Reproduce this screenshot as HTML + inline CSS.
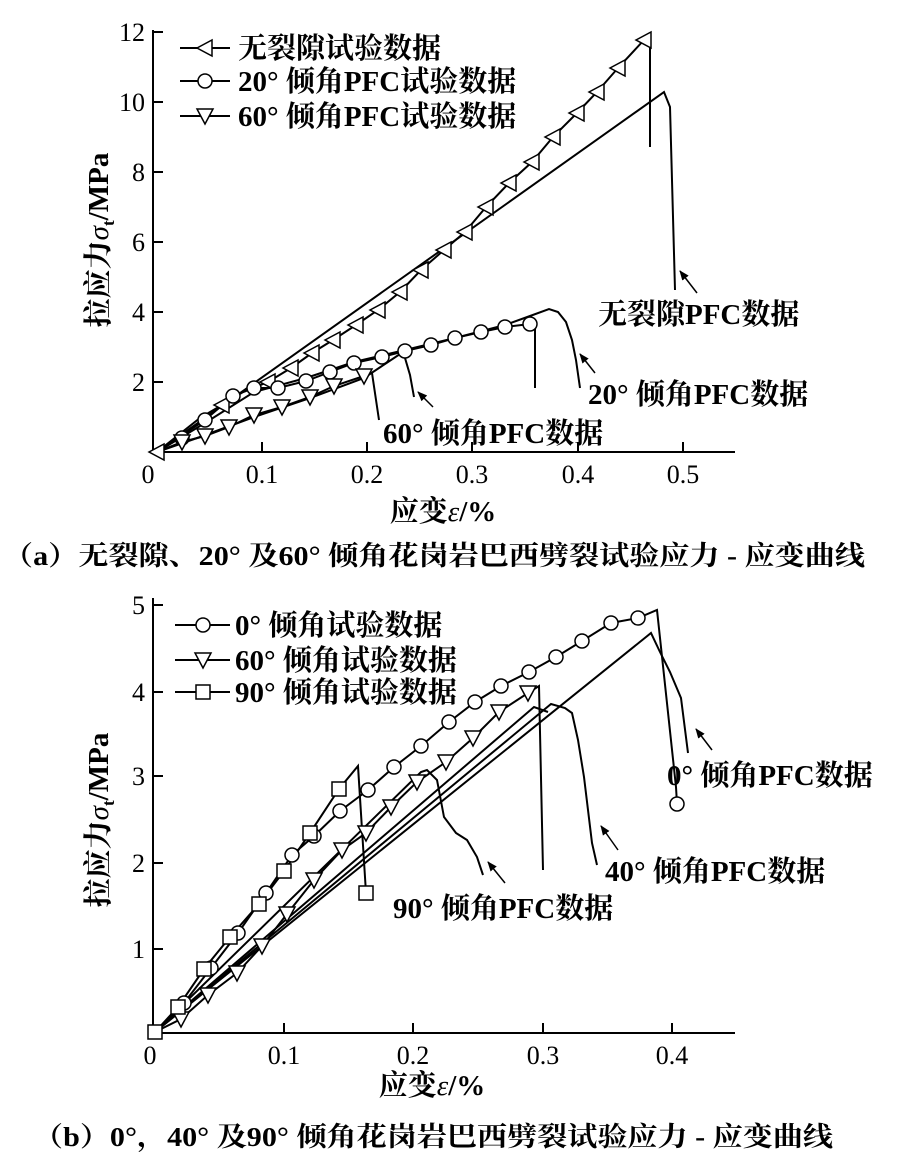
<!DOCTYPE html>
<html><head><meta charset="utf-8"><style>
body{margin:0;background:#fff}
svg{display:block}
text{font-family:"Liberation Serif","Noto Serif CJK SC",serif;fill:#000}
.n{font-size:26px}
.l{font-size:29px;font-weight:bold}
.c{font-size:27px;font-weight:bold}
</style></head><body>
<svg width="904" height="1165" viewBox="0 0 904 1165" xmlns="http://www.w3.org/2000/svg">
<defs>
<marker id="ah" viewBox="0 0 10 10" refX="9" refY="5" markerWidth="10" markerHeight="10" markerUnits="userSpaceOnUse" orient="auto"><path d="M0,1L10,5L0,9z" fill="#000"/></marker>
<g id="lt"><polygon points="-8,0 7,-8 7,8" fill="#fff" stroke="#000" stroke-width="1.5"/></g>
<g id="dt"><polygon points="-8,-7 8,-7 0,8" fill="#fff" stroke="#000" stroke-width="1.5"/></g>
<g id="ci"><circle r="7" fill="#fff" stroke="#000" stroke-width="1.5"/></g>
<g id="sq"><rect x="-7" y="-7" width="14" height="14" fill="#fff" stroke="#000" stroke-width="1.5"/></g>
</defs>
<g fill="none" stroke="#000" stroke-width="2">
<polyline points="153,30 153,452 735,452"/>
<path d="M262,452v-10M367,452v-10M472,452v-10M578,452v-10M683,452v-10M153,32h10M153,102h10M153,172h10M153,242h10M153,312h10M153,382h10"/>
<polyline points="157,452 664,92 670,107 675,290"/>
<polyline points="157,452 200,418 222,405 243,392 268,382 291,368 312,353 333,340 356,325 378,310 400,292 421,270 444,250 465,232 486,207 509,183 532,162 553,137 577,113 597,92 618,68 644,40 650,35 650,147"/>
<polyline points="157,452 205,423 254,392 306,378 354,362 405,350 455,338 505,325 530,316 549,309 558,312 566,322 572,340 576,360 580,388"/>
<polyline points="157,452 205,420 233,396 254,388 278,388 306,381 330,372 354,363 382,357 405,351 431,345 455,338 481,332 505,327 530,324 535,324 535,388"/>
<polyline points="157,452 200,437 254,417 310,398 364,378 400,354 405,358 410,375 414,397"/>
<polyline points="157,452 182,442 205,436 229,427 254,415 282,407 310,397 334,386 364,376 372,373 379,420"/>
<g stroke-width="1.5" marker-end="url(#ah)"><path d="M697,293L680,271"/><path d="M595,373L580,354"/><path d="M433,407L418,392"/></g>
<path d="M180,48h50M180,81h50M180,116h50"/>

<polyline points="153,598 153,1033 735,1033"/>
<path d="M284,1033v-10M413,1033v-10M543,1033v-10M672,1033v-10M153,605h10M153,692h10M153,776h10M153,863h10M153,949h10"/>
<polyline points="155,1032 651,633 660,652 670,672 681,698 688,753"/>
<polyline points="155,1032 551,704 565,708 572,713 578,740 584,777 592,843 597,865"/>
<polyline points="155,1032 534,707 548,712"/>
<polyline points="155,1032 421,772 427,770 437,780 444,817 456,833 467,840 477,857 483,875"/>
<polyline points="155,1032 184,1003 211,968 238,933 266,893 292,855 314,836 340,811 368,790 394,767 421,746 449,722 475,702 501,686 529,672 556,657 582,641 611,623 638,618 657,610 676,787 677,804"/>
<polyline points="155,1032 181,1019 208,995 237,973 262,946 287,914 314,880 342,850 366,833 391,807 417,782 446,762 473,738 499,712 528,693 539,686 543,870"/>
<polyline points="155,1032 178,1007 204,969 230,937 259,904 284,871 310,833 339,789 358,766 366,893"/>
<g stroke-width="1.5" marker-end="url(#ah)"><path d="M712,750L696,729"/><path d="M618,850L601,826"/><path d="M505,883L488,862"/></g>
<path d="M175,625h55M175,660h55M175,692h55"/>
</g>
<g>
<use href="#lt" x="205" y="48"/><use href="#ci" x="205" y="81"/><use href="#dt" x="205" y="116"/>
<use href="#lt" x="157" y="452"/>
<use href="#lt" x="222" y="405"/><use href="#lt" x="268" y="382"/><use href="#lt" x="291" y="368"/><use href="#lt" x="312" y="353"/><use href="#lt" x="333" y="340"/><use href="#lt" x="356" y="325"/><use href="#lt" x="378" y="310"/><use href="#lt" x="400" y="292"/><use href="#lt" x="421" y="270"/><use href="#lt" x="444" y="250"/><use href="#lt" x="465" y="232"/><use href="#lt" x="486" y="207"/><use href="#lt" x="509" y="183"/><use href="#lt" x="532" y="162"/><use href="#lt" x="553" y="137"/><use href="#lt" x="577" y="113"/><use href="#lt" x="597" y="92"/><use href="#lt" x="618" y="68"/><use href="#lt" x="644" y="40"/>
<use href="#ci" x="182" y="438"/><use href="#ci" x="205" y="420"/><use href="#ci" x="233" y="396"/><use href="#ci" x="254" y="388"/><use href="#ci" x="278" y="388"/><use href="#ci" x="306" y="381"/><use href="#ci" x="330" y="372"/><use href="#ci" x="354" y="363"/><use href="#ci" x="382" y="357"/><use href="#ci" x="405" y="351"/><use href="#ci" x="431" y="345"/><use href="#ci" x="455" y="338"/><use href="#ci" x="481" y="332"/><use href="#ci" x="505" y="327"/><use href="#ci" x="530" y="324"/>
<use href="#dt" x="182" y="442"/><use href="#dt" x="205" y="436"/><use href="#dt" x="229" y="427"/><use href="#dt" x="254" y="415"/><use href="#dt" x="282" y="407"/><use href="#dt" x="310" y="397"/><use href="#dt" x="334" y="386"/><use href="#dt" x="364" y="376"/>
</g>
<g>
<use href="#ci" x="203" y="625"/><use href="#dt" x="203" y="660"/><use href="#sq" x="203" y="692"/>
<use href="#ci" x="184" y="1003"/><use href="#ci" x="211" y="968"/><use href="#ci" x="238" y="933"/><use href="#ci" x="266" y="893"/><use href="#ci" x="292" y="855"/><use href="#ci" x="314" y="836"/><use href="#ci" x="340" y="811"/><use href="#ci" x="368" y="790"/><use href="#ci" x="394" y="767"/><use href="#ci" x="421" y="746"/><use href="#ci" x="449" y="722"/><use href="#ci" x="475" y="702"/><use href="#ci" x="501" y="686"/><use href="#ci" x="529" y="672"/><use href="#ci" x="556" y="657"/><use href="#ci" x="582" y="641"/><use href="#ci" x="611" y="623"/><use href="#ci" x="638" y="618"/><use href="#ci" x="677" y="804"/>
<use href="#dt" x="181" y="1019"/><use href="#dt" x="208" y="995"/><use href="#dt" x="237" y="973"/><use href="#dt" x="262" y="946"/><use href="#dt" x="287" y="914"/><use href="#dt" x="314" y="880"/><use href="#dt" x="342" y="850"/><use href="#dt" x="366" y="833"/><use href="#dt" x="391" y="807"/><use href="#dt" x="417" y="782"/><use href="#dt" x="446" y="762"/><use href="#dt" x="473" y="738"/><use href="#dt" x="499" y="712"/><use href="#dt" x="528" y="693"/>
<use href="#sq" x="155" y="1032"/><use href="#sq" x="178" y="1007"/><use href="#sq" x="204" y="969"/><use href="#sq" x="230" y="937"/><use href="#sq" x="259" y="904"/><use href="#sq" x="284" y="871"/><use href="#sq" x="310" y="833"/><use href="#sq" x="339" y="789"/><use href="#sq" x="366" y="893"/>
</g>
<g class="n" text-anchor="end">
<text x="145" y="41">12</text><text x="145" y="111">10</text><text x="145" y="181">8</text><text x="145" y="251">6</text><text x="145" y="321">4</text><text x="145" y="391">2</text>
</g>
<g class="n" text-anchor="middle">
<text x="148" y="483">0</text><text x="262" y="483">0.1</text><text x="367" y="483">0.2</text><text x="472" y="483">0.3</text><text x="578" y="483">0.4</text><text x="683" y="483">0.5</text>
</g>
<text class="l" x="238" y="58">无裂隙试验数据</text>
<text class="l" x="238" y="91">20° 倾角PFC试验数据</text>
<text class="l" x="238" y="126">60° 倾角PFC试验数据</text>
<text class="l" x="598" y="324">无裂隙PFC数据</text>
<text class="l" x="588" y="404">20° 倾角PFC数据</text>
<text class="l" x="383" y="443">60° 倾角PFC数据</text>
<text class="l" transform="translate(108,240) rotate(-90)" text-anchor="middle">拉应力<tspan font-style="italic" font-weight="normal">σ</tspan><tspan font-size="17" dy="6">t</tspan><tspan dy="-6">/MPa</tspan></text>
<text class="l" x="443" y="521" text-anchor="middle">应变<tspan font-style="italic" font-weight="normal">ε</tspan>/%</text>
<text class="c" x="3" y="565" textLength="862" lengthAdjust="spacingAndGlyphs">（a）无裂隙、20° 及60° 倾角花岗岩巴西劈裂试验应力 - 应变曲线</text>
<g class="n" text-anchor="end">
<text x="145" y="614">5</text><text x="145" y="701">4</text><text x="145" y="785">3</text><text x="145" y="872">2</text><text x="145" y="958">1</text>
</g>
<g class="n" text-anchor="middle">
<text x="150" y="1064">0</text><text x="284" y="1064">0.1</text><text x="413" y="1064">0.2</text><text x="543" y="1064">0.3</text><text x="672" y="1064">0.4</text>
</g>
<text class="l" x="235" y="635">0° 倾角试验数据</text>
<text class="l" x="235" y="670">60° 倾角试验数据</text>
<text class="l" x="235" y="702">90° 倾角试验数据</text>
<text class="l" x="667" y="785">0° 倾角PFC数据</text>
<text class="l" x="605" y="881">40° 倾角PFC数据</text>
<text class="l" x="393" y="918">90° 倾角PFC数据</text>
<text class="l" transform="translate(108,820) rotate(-90)" text-anchor="middle">拉应力<tspan font-style="italic" font-weight="normal">σ</tspan><tspan font-size="17" dy="6">t</tspan><tspan dy="-6">/MPa</tspan></text>
<text class="l" x="432" y="1095" text-anchor="middle">应变<tspan font-style="italic" font-weight="normal">ε</tspan>/%</text>
<text class="c" x="33" y="1146" textLength="800" lengthAdjust="spacingAndGlyphs">（b）0°，40° 及90° 倾角花岗岩巴西劈裂试验应力 - 应变曲线</text>
</svg>
</body></html>
